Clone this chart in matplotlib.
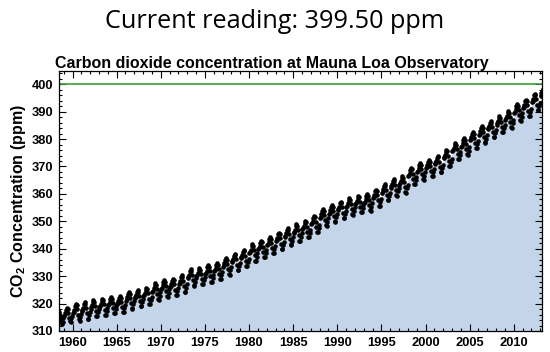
import numpy as np
import matplotlib
matplotlib.use('Agg')
import matplotlib.pyplot as plt
from matplotlib.ticker import MultipleLocator

# monthly mean CO2 (ppm) at Mauna Loa, one row per year, Jan..Dec
co2_1958 = [315.7, 317.5, 317.5, 317.1, 315.9, 314.9, 313.2, 312.7, 313.3, 314.7]  # Mar..Dec
co2_rows = [
    [315.6, 316.4, 316.7, 317.7, 318.3, 318.2, 316.5, 314.8, 313.8, 313.3, 314.8, 315.6],  # 1959
    [316.4, 317.0, 317.6, 319.0, 320.0, 319.6, 318.2, 315.9, 314.2, 313.8, 315.0, 316.2],  # 1960
    [317.3, 317.7, 318.5, 319.7, 320.4, 319.8, 318.3, 316.4, 314.5, 314.4, 315.9, 317.1],
    [318.2, 318.6, 319.4, 320.6, 321.3, 320.7, 319.2, 317.3, 315.4, 315.3, 316.8, 318.0],
    [318.7, 319.1, 319.9, 321.1, 321.8, 321.2, 319.7, 317.8, 315.9, 315.8, 317.3, 318.5],
    [319.3, 319.7, 320.5, 321.7, 322.4, 321.8, 320.3, 318.4, 316.5, 316.4, 317.9, 319.1],
    [319.7, 320.1, 320.9, 322.1, 322.8, 322.2, 320.7, 318.8, 316.9, 316.8, 318.3, 319.5],  # 1965
    [321.1, 321.5, 322.3, 323.5, 324.2, 323.6, 322.1, 320.2, 318.3, 318.2, 319.7, 320.9],
    [321.9, 322.3, 323.1, 324.3, 325.0, 324.4, 322.9, 321.0, 319.1, 319.0, 320.5, 321.7],
    [322.7, 323.1, 323.9, 325.1, 325.8, 325.2, 323.7, 321.8, 319.9, 319.8, 321.3, 322.5],
    [324.3, 324.7, 325.5, 326.7, 327.4, 326.8, 325.3, 323.4, 321.5, 321.4, 322.9, 324.1],
    [325.4, 325.8, 326.6, 327.8, 328.5, 327.9, 326.4, 324.5, 322.6, 322.5, 324.0, 325.2],  # 1970
    [326.0, 326.4, 327.2, 328.4, 329.1, 328.5, 327.0, 325.1, 323.2, 323.1, 324.6, 325.8],
    [327.2, 327.6, 328.4, 329.6, 330.3, 329.7, 328.2, 326.3, 324.4, 324.3, 325.8, 327.0],
    [329.4, 329.8, 330.6, 331.8, 332.5, 331.9, 330.4, 328.5, 326.6, 326.5, 328.0, 329.2],
    [329.9, 330.3, 331.1, 332.3, 333.0, 332.4, 330.9, 329.0, 327.1, 327.0, 328.5, 329.7],
    [330.8, 331.2, 332.0, 333.2, 333.9, 333.3, 331.8, 329.9, 328.0, 327.9, 329.4, 330.6],  # 1975
    [331.7, 332.1, 332.9, 334.1, 334.8, 334.2, 332.7, 330.8, 328.9, 328.8, 330.3, 331.5],
    [333.5, 333.9, 334.7, 335.9, 336.6, 336.0, 334.5, 332.6, 330.7, 330.6, 332.1, 333.3],
    [335.1, 335.5, 336.3, 337.5, 338.2, 337.6, 336.1, 334.2, 332.3, 332.2, 333.7, 334.9],
    [336.5, 336.9, 337.7, 338.9, 339.6, 339.0, 337.5, 335.6, 333.7, 333.6, 335.1, 336.3],
    [338.5, 338.9, 339.7, 340.9, 341.6, 341.0, 339.5, 337.6, 335.7, 335.6, 337.1, 338.3],  # 1980
    [339.8, 340.2, 341.0, 342.2, 342.9, 342.3, 340.8, 338.9, 337.0, 336.9, 338.4, 339.6],
    [341.2, 341.6, 342.4, 343.6, 344.3, 343.7, 342.2, 340.3, 338.4, 338.3, 339.8, 341.0],
    [342.8, 343.2, 344.0, 345.2, 345.9, 345.3, 343.8, 341.9, 340.0, 339.9, 341.4, 342.6],
    [344.4, 344.8, 345.6, 346.8, 347.5, 346.9, 345.4, 343.5, 341.6, 341.5, 343.0, 344.2],
    [345.8, 346.2, 347.0, 348.2, 348.9, 348.3, 346.8, 344.9, 343.0, 342.9, 344.4, 345.6],  # 1985
    [347.1, 347.5, 348.3, 349.5, 350.2, 349.6, 348.1, 346.2, 344.3, 344.2, 345.7, 346.9],
    [348.9, 349.3, 350.1, 351.3, 352.0, 351.4, 349.9, 348.0, 346.1, 346.0, 347.5, 348.7],
    [351.3, 351.7, 352.5, 353.7, 354.4, 353.8, 352.3, 350.4, 348.5, 348.4, 349.9, 351.1],
    [352.8, 353.2, 354.0, 355.2, 355.9, 355.3, 353.8, 351.9, 350.0, 349.9, 351.4, 352.6],
    [354.1, 354.5, 355.3, 356.5, 357.2, 356.6, 355.1, 353.2, 351.3, 351.2, 352.7, 353.9],  # 1990
    [355.3, 355.7, 356.5, 357.7, 358.4, 357.8, 356.3, 354.4, 352.5, 352.4, 353.9, 355.1],
    [356.2, 356.6, 357.4, 358.6, 359.3, 358.7, 357.2, 355.3, 353.4, 353.3, 354.8, 356.0],
    [356.8, 357.2, 358.0, 359.2, 359.9, 359.3, 357.8, 355.9, 354.0, 353.9, 355.4, 356.6],
    [358.5, 358.9, 359.7, 360.9, 361.6, 361.0, 359.5, 357.6, 355.7, 355.6, 357.1, 358.3],
    [360.5, 360.9, 361.7, 362.9, 363.6, 363.0, 361.5, 359.6, 357.7, 357.6, 359.1, 360.3],  # 1995
    [362.3, 362.7, 363.5, 364.7, 365.4, 364.8, 363.3, 361.4, 359.5, 359.4, 360.9, 362.1],
    [363.4, 363.8, 364.6, 365.8, 366.5, 365.9, 364.4, 362.5, 360.6, 360.5, 362.0, 363.2],
    [366.4, 366.8, 367.6, 368.8, 369.5, 368.9, 367.4, 365.5, 363.6, 363.5, 365.0, 366.2],
    [368.1, 368.5, 369.3, 370.5, 371.2, 370.6, 369.1, 367.2, 365.3, 365.2, 366.7, 367.9],
    [369.3, 369.7, 370.5, 371.7, 372.4, 371.8, 370.3, 368.4, 366.5, 366.4, 367.9, 369.1],  # 2000
    [370.8, 371.2, 372.0, 373.2, 373.9, 373.3, 371.8, 369.9, 368.0, 367.9, 369.4, 370.6],
    [373.0, 373.4, 374.2, 375.4, 376.1, 375.5, 374.0, 372.1, 370.2, 370.1, 371.6, 372.8],
    [375.5, 375.9, 376.7, 377.9, 378.6, 378.0, 376.5, 374.6, 372.7, 372.6, 374.1, 375.3],
    [377.2, 377.6, 378.4, 379.6, 380.3, 379.7, 378.2, 376.3, 374.4, 374.3, 375.8, 377.0],
    [379.5, 379.9, 380.7, 381.9, 382.6, 382.0, 380.5, 378.6, 376.7, 376.6, 378.1, 379.3],  # 2005
    [381.6, 382.0, 382.8, 384.0, 384.7, 384.1, 382.6, 380.7, 378.8, 378.7, 380.2, 381.4],
    [383.5, 383.9, 384.7, 385.9, 386.6, 386.0, 384.5, 382.6, 380.7, 380.6, 382.1, 383.3],
    [385.3, 385.7, 386.5, 387.7, 388.4, 387.8, 386.3, 384.4, 382.5, 382.4, 383.9, 385.1],
    [387.1, 387.5, 388.3, 389.5, 390.2, 389.6, 388.1, 386.2, 384.3, 384.2, 385.7, 386.9],
    [389.6, 390.0, 390.8, 392.0, 392.7, 392.1, 390.6, 388.7, 386.8, 386.7, 388.2, 389.4],  # 2010
    [391.3, 391.7, 392.5, 393.7, 394.4, 393.8, 392.3, 390.4, 388.5, 388.4, 389.9, 391.1],
    [393.5, 393.9, 394.7, 395.9, 396.6, 396.0, 394.5, 392.6, 390.7, 390.6, 392.1, 393.3],  # 2012
]
co2_2013 = [395.6, 396.8, 397.4, 398.4, 399.8]  # Jan..May
current_reading = 399.50

# decimal dates (mid-month)
dates = [1958 + (m + 0.5) / 12 for m in range(2, 12)]
values = list(co2_1958)
for i, row in enumerate(co2_rows):
    yr = 1959 + i
    dates += [yr + (m + 0.5) / 12 for m in range(12)]
    values += row
dates += [2013 + (m + 0.5) / 12 for m in range(len(co2_2013))]
values += co2_2013

plt.rcParams['font.family'] = ['Liberation Sans', 'DejaVu Sans']
plt.rcParams['mathtext.fontset'] = 'custom'
plt.rcParams['mathtext.bf'] = 'Liberation Sans:bold'
plt.rcParams['mathtext.rm'] = 'Liberation Sans'

fig = plt.figure(figsize=(5.5, 3.52), dpi=100)
ax = fig.add_axes([0.107, 0.0597, 0.8785, 0.74])

ax.fill_between(dates, values, 300, color='#c4d5ea', lw=0)
ax.plot(dates, values, 'o', color='black', ms=3.3, mec='none')
ax.axhline(400, color='#3a9e3a', lw=1.2)

ax.set_xlim(1958.45, 2013.2)
ax.set_ylim(310, 405)
ax.xaxis.set_major_locator(MultipleLocator(5))
ax.xaxis.set_minor_locator(MultipleLocator(1))
ax.yaxis.set_major_locator(MultipleLocator(10))
ax.yaxis.set_minor_locator(MultipleLocator(2))
ax.tick_params(which='both', direction='in', top=True, right=True, width=0.8)
ax.tick_params(which='major', length=5, labelsize=9.3, pad=4)
ax.tick_params(which='minor', length=2.5)
for lab in ax.get_xticklabels() + ax.get_yticklabels():
    lab.set_fontweight('bold')
for sp in ax.spines.values():
    sp.set_linewidth(0.9)

ax.set_ylabel(r'CO$_\mathbf{2}$ Concentration (ppm)', fontsize=11.5, fontweight='bold', labelpad=3)
ax.set_title('Carbon dioxide concentration at Mauna Loa Observatory', loc='left',
             x=-0.008, fontsize=11.5, fontweight='bold', pad=2)

fig.text(0.5, 0.94, 'Current reading: {:.2f} ppm'.format(current_reading), ha='center', va='center',
         fontsize=18.2, family='Open Sans')

fig.savefig('out.png', dpi=100)
